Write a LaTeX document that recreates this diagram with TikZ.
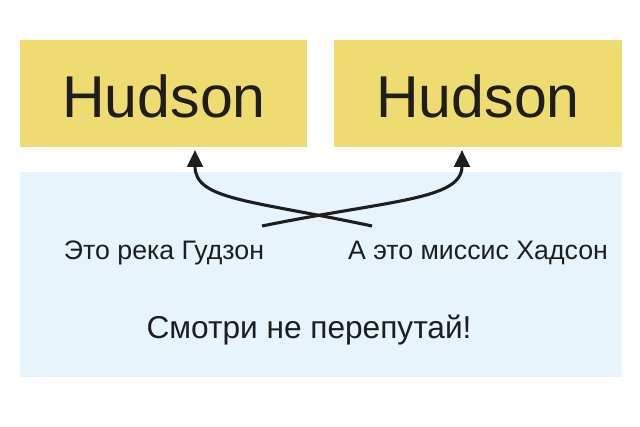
\documentclass[tikz,border=0pt]{standalone}
\usepackage{fontspec}
\setmainfont{Liberation Sans}
\usetikzlibrary{arrows.meta}
\definecolor{namegold}{RGB}{238,220,112}
\definecolor{notesky}{RGB}{231,244,252}
\definecolor{inkgray}{RGB}{30,30,30}
\begin{document}
\begin{tikzpicture}[x=0.025cm, y=-0.025cm,
  namebox/.style={text=inkgray, font=\fontsize{42}{46}\selectfont, inner sep=0pt},
  note/.style={text=inkgray, font=\fontsize{19}{22}\selectfont},
  cross/.style={line width=2.2pt, -{Triangle[length=12pt, width=11pt]}, inkgray}]
  \useasboundingbox (0,0) rectangle (640,427);
  % boxes
  \fill[notesky] (20,172) rectangle (622,377);
  \fill[namegold] (20,40) rectangle (307,147);
  \fill[namegold] (334,40) rectangle (622,147);
  \node[namebox] (river) at (164,96) {Hudson};
  \node[namebox] (missis) at (478,96) {Hudson};
  \coordinate (riverfoot) at (195,150);
  \coordinate (missisfoot) at (462,150);
  % labels
  \node[note] (rivernote) at (164,253) {Это река Гудзон};
  \node[note] (missisnote) at (478,253) {А это миссис Хадсон};
  \node[text=inkgray, font=\fontsize{22.5}{26}\selectfont] (warn) at (309,330) {Смотри не перепутай!};
  % crossing arrows
  \coordinate (startA) at (372,226);
  \coordinate (startB) at (262,226);
  \draw[cross] (startA) .. controls (250,200) and (195,200) .. (riverfoot);
  \draw[cross] (startB) .. controls (390,200) and (462,200) .. (missisfoot);
\end{tikzpicture}
\end{document}
